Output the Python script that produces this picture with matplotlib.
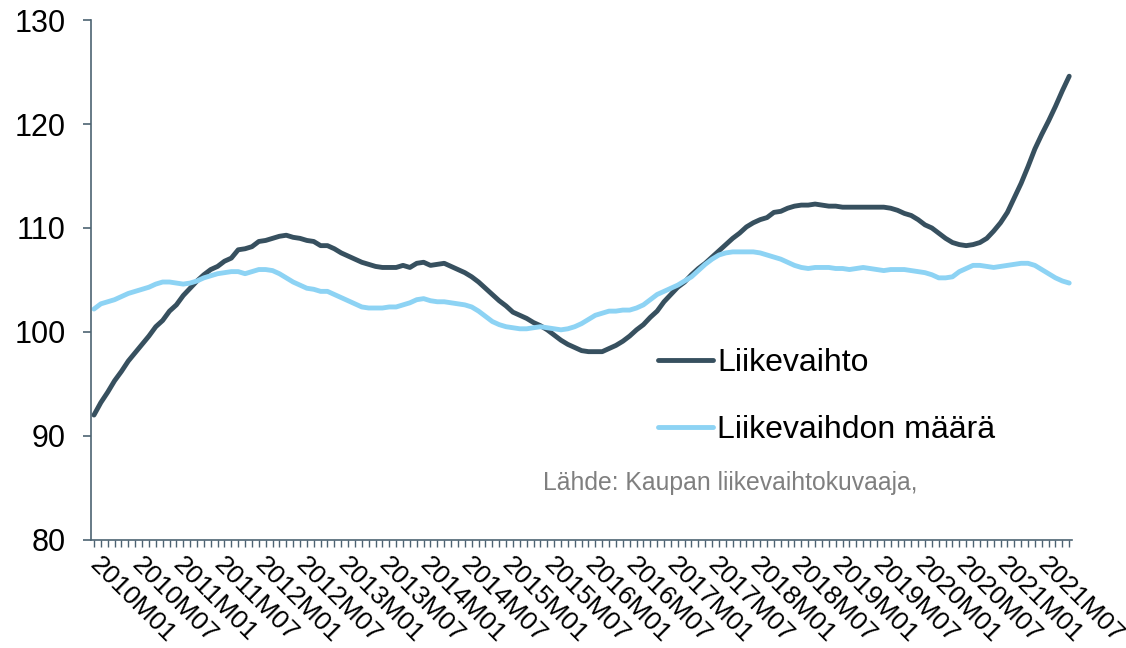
import numpy as np
import matplotlib
matplotlib.use("Agg")
import matplotlib.pyplot as plt
from matplotlib.transforms import ScaledTranslation

plt.rcParams['font.family'] = ['Liberation Sans', 'DejaVu Sans']

# monthly index, 2010M01 .. 2021M11
years = list(range(2010, 2022))
months = [f"{y}M{m:02d}" for y in years for m in range(1, 13)][:143]

liikevaihto = [
    92.0, 93.2, 94.2, 95.3, 96.2, 97.2, 98.0, 98.8, 99.6, 100.5,
    101.1, 102.0, 102.6, 103.5, 104.2, 104.9, 105.5, 106.0, 106.3, 106.8,
    107.1, 107.9, 108.0, 108.2, 108.7, 108.8, 109.0, 109.2, 109.3, 109.1,
    109.0, 108.8, 108.7, 108.3, 108.3, 108.0, 107.6, 107.3, 107.0, 106.7,
    106.5, 106.3, 106.2, 106.2, 106.2, 106.4, 106.2, 106.6, 106.7, 106.4,
    106.5, 106.6, 106.3, 106.0, 105.7, 105.3, 104.8, 104.2, 103.6, 103.0,
    102.5, 101.9, 101.6, 101.3, 100.9, 100.6, 100.2, 99.7, 99.2, 98.8,
    98.5, 98.2, 98.1, 98.1, 98.1, 98.4, 98.7, 99.1, 99.6, 100.2,
    100.7, 101.4, 102.0, 102.9, 103.6, 104.3, 104.8, 105.5, 106.1, 106.6,
    107.2, 107.8, 108.4, 109.0, 109.5, 110.1, 110.5, 110.8, 111.0, 111.5,
    111.6, 111.9, 112.1, 112.2, 112.2, 112.3, 112.2, 112.1, 112.1, 112.0,
    112.0, 112.0, 112.0, 112.0, 112.0, 112.0, 111.9, 111.7, 111.4, 111.2,
    110.8, 110.3, 110.0, 109.5, 109.0, 108.6, 108.4, 108.3, 108.4, 108.6,
    109.0, 109.7, 110.5, 111.5, 112.9, 114.3, 115.9, 117.6, 119.0, 120.3,
    121.7, 123.2, 124.6,
]

liikevaihdon_maara = [
    102.2, 102.7, 102.9, 103.1, 103.4, 103.7, 103.9, 104.1, 104.3, 104.6,
    104.8, 104.8, 104.7, 104.6, 104.7, 104.9, 105.2, 105.4, 105.6, 105.7,
    105.8, 105.8, 105.6, 105.8, 106.0, 106.0, 105.9, 105.6, 105.2, 104.8,
    104.5, 104.2, 104.1, 103.9, 103.9, 103.6, 103.3, 103.0, 102.7, 102.4,
    102.3, 102.3, 102.3, 102.4, 102.4, 102.6, 102.8, 103.1, 103.2, 103.0,
    102.9, 102.9, 102.8, 102.7, 102.6, 102.4, 102.0, 101.5, 101.0, 100.7,
    100.5, 100.4, 100.3, 100.3, 100.4, 100.5, 100.4, 100.3, 100.2, 100.3,
    100.5, 100.8, 101.2, 101.6, 101.8, 102.0, 102.0, 102.1, 102.1, 102.3,
    102.6, 103.1, 103.6, 103.9, 104.2, 104.5, 104.9, 105.3, 105.9, 106.5,
    107.0, 107.4, 107.6, 107.7, 107.7, 107.7, 107.7, 107.6, 107.4, 107.2,
    107.0, 106.7, 106.4, 106.2, 106.1, 106.2, 106.2, 106.2, 106.1, 106.1,
    106.0, 106.1, 106.2, 106.1, 106.0, 105.9, 106.0, 106.0, 106.0, 105.9,
    105.8, 105.7, 105.5, 105.2, 105.2, 105.3, 105.8, 106.1, 106.4, 106.4,
    106.3, 106.2, 106.3, 106.4, 106.5, 106.6, 106.6, 106.4, 106.0, 105.6,
    105.2, 104.9, 104.7,
]

dark = '#37505f'
light = '#8dd3f4'
axis_col = '#4d6372'

fig = plt.figure(figsize=(11.26, 6.48), dpi=100)
ax = fig.add_axes([0.0804, 0.167, 0.8716, 0.802])

x = np.arange(len(months))
ax.plot(x, liikevaihto, color=dark, lw=3.5, solid_capstyle='round', label='Liikevaihto')
ax.plot(x, liikevaihdon_maara, color=light, lw=3.5, solid_capstyle='round', label='Liikevaihdon määrä')

ax.set_ylim(80, 130)
ax.set_yticks(range(80, 131, 10))
ax.set_xlim(-0.5, len(months) - 1 + 0.4)

ax.set_xticks(x)
ax.set_xticklabels([m if i % 6 == 0 else '' for i, m in enumerate(months)],
                   rotation=-45, ha='left', va='center', rotation_mode='anchor')
# nudge the rotated labels a little to the left
shift = ScaledTranslation(-4 / 100, 0, fig.dpi_scale_trans)
for lab in ax.get_xticklabels():
    lab.set_transform(lab.get_transform() + shift)

for s in ['top', 'right']:
    ax.spines[s].set_visible(False)
for s in ['left', 'bottom']:
    ax.spines[s].set_color(axis_col)
    ax.spines[s].set_linewidth(1.2)

ax.tick_params(axis='y', length=6, width=1.2, color=axis_col, labelsize=22, pad=12)
ax.tick_params(axis='x', length=5, width=1.0, color=axis_col, labelsize=19, pad=10)

fig.legend(loc='upper left', bbox_to_anchor=(0.584, 0.463), frameon=False,
           fontsize=23, handlelength=1.72, handletextpad=0.15, labelspacing=1.15,
           borderpad=0, borderaxespad=0)

fig.text(543 / 1126, 1 - 483 / 648, 'Lähde: Kaupan liikevaihtokuvaaja,',
         color='#7f7f7f', fontsize=17.8, va='center', ha='left')

fig.savefig('out.png', dpi=100)
